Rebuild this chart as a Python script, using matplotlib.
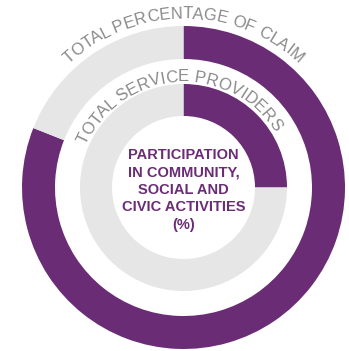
import numpy as np
import matplotlib
matplotlib.use('Agg')
import matplotlib.pyplot as plt
from matplotlib.font_manager import FontProperties
from matplotlib.textpath import TextToPath

# data
outer_values = [81, 19]     # total percentage of claim
inner_values = [25, 75]     # total service providers
ring_colors = ['#6b2c76', '#e6e6e6']
outer_label = 'TOTAL PERCENTAGE OF CLAIM'
inner_label = 'TOTAL SERVICE PROVIDERS'
center_label = 'PARTICIPATION\nIN COMMUNITY,\nSOCIAL AND\nCIVIC ACTIVITIES\n(%)'

W, H = 349, 351
fig = plt.figure(figsize=(W / 100, H / 100), dpi=100)
ax = fig.add_axes([0, 0, 1, 1])

cx, cy = 183.5, H - 187.5

ax.pie(outer_values, radius=161.5, center=(cx, cy), startangle=90, counterclock=False,
       colors=ring_colors, wedgeprops=dict(width=33, linewidth=0), frame=True)
ax.pie(inner_values, radius=103.5, center=(cx, cy), startangle=90, counterclock=False,
       colors=ring_colors, wedgeprops=dict(width=32, linewidth=0), frame=True)
ax.set_xlim(0, W)
ax.set_ylim(0, H)
ax.set_aspect('equal')
ax.axis('off')

t2p = TextToPath()


def arc_text(s, r, mid_deg, fp, color):
    # lay the label out letter by letter along a circle, clockwise over the top
    scale = 100 / 72
    def w(t):
        if not t:
            return 0
        return t2p.get_text_width_height_descent(t, fp, ismath=False)[0] * scale
    total = w(s)
    for i, ch in enumerate(s):
        if ch == ' ':
            continue
        pos = (w(s[:i]) + w(s[:i + 1])) / 2
        th = np.radians(mid_deg) - (pos - total / 2) / r
        x = cx + r * np.cos(th)
        y = cy + r * np.sin(th)
        ax.text(x, y, ch, fontproperties=fp, color=color, ha='center', va='baseline',
                rotation=np.degrees(th) - 90, rotation_mode='anchor')


fp = FontProperties(family='Liberation Sans', size=12)
arc_text(outer_label, 169, 90, fp, '#8a8a8a')
arc_text(inner_label, 106, 94, fp, '#8a8a8a')

ax.text(cx, H - 190, center_label, ha='center', va='center', color='#6b2c76',
        fontsize=10.5, fontweight='bold', family='Liberation Sans', linespacing=1.3)

fig.savefig('out.png', dpi=100)
